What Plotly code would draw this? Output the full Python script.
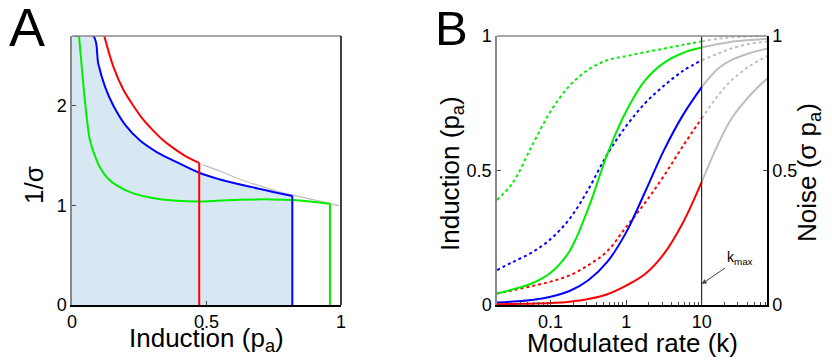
import math
import plotly.graph_objects as go

# ---- Panel A: 1/sigma against induction p_a ----
red_p = [0.12, 0.154, 0.191, 0.228, 0.265, 0.302, 0.34, 0.377, 0.425, 0.473]
red_inv = [2.7, 2.39, 2.16, 2.0, 1.86, 1.75, 1.65, 1.575, 1.49, 1.427]

blue_p = [0.011, 0.079, 0.098, 0.123, 0.154, 0.2, 0.253, 0.315, 0.377, 0.473,
          0.55, 0.625, 0.69, 0.748, 0.819]
blue_inv = [2.7, 2.7, 2.42, 2.19, 2.0, 1.8, 1.65, 1.535, 1.45, 1.327,
            1.26, 1.21, 1.17, 1.135, 1.093]

green_p = [0.026, 0.036, 0.045, 0.05, 0.067, 0.085, 0.104, 0.13, 0.166, 0.228,
           0.3, 0.377, 0.473, 0.55, 0.625, 0.748, 0.819, 0.9, 0.959]
green_inv = [2.7, 2.4, 2.13, 2.0, 1.65, 1.5, 1.38, 1.28, 1.2, 1.12,
             1.075, 1.05, 1.04, 1.048, 1.057, 1.06, 1.053, 1.035, 1.017]

bound_p = [0.486, 0.55, 0.625, 0.7, 0.748, 0.8, 0.85, 0.9, 0.95, 0.993]
bound_inv = [1.407, 1.345, 1.26, 1.195, 1.155, 1.115, 1.085, 1.055, 1.025, 0.997]

# ---- Panel B: induction / noise against modulated rate k ----
k = [0.0195, 0.0316, 0.0562, 0.1, 0.178, 0.316, 0.562, 1, 1.78, 3.16, 5.62, 10]
red_ind = [0.003, 0.004, 0.005, 0.007, 0.012, 0.022, 0.04, 0.072, 0.115, 0.19, 0.305, 0.458]
blue_ind = [0.009, 0.013, 0.019, 0.031, 0.052, 0.092, 0.16, 0.27, 0.42, 0.575, 0.705, 0.81]
green_ind = [0.043, 0.058, 0.08, 0.12, 0.2, 0.36, 0.56, 0.72, 0.835, 0.9, 0.937, 0.957]
red_noise = [0.043, 0.055, 0.07, 0.087, 0.11, 0.148, 0.2, 0.29, 0.38, 0.48, 0.59, 0.694]
blue_noise = [0.13, 0.16, 0.195, 0.245, 0.32, 0.43, 0.56, 0.665, 0.75, 0.815, 0.87, 0.91]
green_noise = [0.39, 0.455, 0.59, 0.72, 0.815, 0.875, 0.91, 0.925, 0.94, 0.953, 0.967, 0.98]

# beyond k_max (grey continuations)
k_hi = [10, 16.7, 25, 42, 70, 75]
red_ind_hi = [0.458, 0.601, 0.694, 0.774, 0.836, 0.842]
blue_ind_hi = [0.81, 0.88, 0.911, 0.935, 0.952, 0.954]
green_ind_hi = [0.957, 0.97, 0.979, 0.985, 0.989, 0.99]
red_noise_hi = [0.694, 0.781, 0.836, 0.886, 0.922, 0.925]
blue_noise_hi = [0.91, 0.935, 0.954, 0.97, 0.979, 0.98]
green_noise_hi = [0.98, 0.99, 0.995, 0.998, 1.0, 1.0]

k_max = 10

RED, BLUE, GREEN = "#ff0000", "#0000ff", "#00ee00"
GREY = "rgb(190,190,190)"
AXGREY = "#888888"
FONT = "Liberation Sans, Arial, sans-serif"
W, H = 832, 361


def px(x):
    return x / W


def py(y):
    return 1 - y / H


fig = go.Figure()

# panel A: shaded region under the blue curve
fig.add_trace(go.Scatter(x=[0] + blue_p, y=[blue_inv[0]] + blue_inv,
                         fill="tozeroy", fillcolor="rgb(216,232,243)", mode="none",
                         line_shape="spline", xaxis="x", yaxis="y"))
fig.add_trace(go.Scatter(x=bound_p, y=bound_inv, mode="lines", line_shape="spline",
                         line=dict(color=GREY, width=1.2), xaxis="x", yaxis="y"))
for ps, vs, col in [(green_p, green_inv, GREEN), (blue_p, blue_inv, BLUE), (red_p, red_inv, RED)]:
    fig.add_trace(go.Scatter(x=ps, y=vs, mode="lines", line_shape="spline",
                             line=dict(color=col, width=2), xaxis="x", yaxis="y"))
    # drop to the axis at the end of each curve
    fig.add_trace(go.Scatter(x=[ps[-1], ps[-1]], y=[vs[-1], 0], mode="lines",
                             line=dict(color=col, width=2), xaxis="x", yaxis="y"))

# panel B
for xs, ys, col, dash in [
    (k_hi, green_noise_hi, GREY, "dot"), (k_hi, green_ind_hi, GREY, "solid"),
    (k_hi, blue_noise_hi, GREY, "dot"), (k_hi, blue_ind_hi, GREY, "solid"),
    (k_hi, red_noise_hi, GREY, "dot"), (k_hi, red_ind_hi, GREY, "solid"),
    (k, green_noise, GREEN, "dot"), (k, blue_noise, BLUE, "dot"), (k, red_noise, RED, "dot"),
    (k, green_ind, GREEN, "solid"), (k, blue_ind, BLUE, "solid"), (k, red_ind, RED, "solid"),
]:
    fig.add_trace(go.Scatter(x=xs, y=ys, mode="lines", line_shape="spline",
                             line=dict(color=col, width=2, dash=dash), xaxis="x2", yaxis="y2"))
# k_max marker line, drawn against the right-hand (noise) axis so that axis is rendered
fig.add_trace(go.Scatter(x=[k_max, k_max], y=[0, 1], mode="lines",
                         line=dict(color="black", width=1), xaxis="x2", yaxis="y3"))

tick_font = dict(family=FONT, size=18, color="black")
title_font = dict(family=FONT, size=26, color="black")
ydom = [py(305), py(36)]
common = dict(showgrid=False, zeroline=False, ticks="inside", tickfont=tick_font,
              linewidth=1.5, showline=True, automargin=False)

fig.update_layout(
    width=W, height=H, template="none", showlegend=False,
    paper_bgcolor="white", plot_bgcolor="white",
    margin=dict(l=0, r=0, t=0, b=0),
    font=dict(family=FONT, color="black"),
    xaxis=dict(domain=[px(72), px(341)], range=[0, 1], tickvals=[0, 0.5, 1],
               ticklen=4, linecolor="black", anchor="y", **common),
    yaxis=dict(domain=ydom, range=[0, 2.7], tickvals=[0, 1, 2],
               ticklen=4, linecolor=AXGREY, anchor="x", **common),
    xaxis2=dict(domain=[px(497), px(767)], type="log", range=[-1.71, 1.865],
                tickvals=[0.1, 1, 10], ticktext=["0.1", "1", "10"], ticklen=5,
                minor=dict(ticks="inside", ticklen=3, dtick="D1", showgrid=False),
                linecolor="black", anchor="y2", **common),
    yaxis2=dict(domain=ydom, range=[0, 1], tickvals=[0, 0.5, 1],
                ticklen=4, linecolor=AXGREY, anchor="x2", **common),
    yaxis3=dict(domain=ydom, range=[0, 1], tickvals=[0, 0.5, 1], overlaying="y2",
                side="right", ticklen=4, linecolor="black", anchor="x2", **common),
)

# box edges not drawn by the axes
fig.add_shape(type="line", xref="x domain", yref="y domain", x0=0, x1=1, y0=1, y1=1,
              line=dict(color=AXGREY, width=1.5))
fig.add_shape(type="line", xref="x domain", yref="y domain", x0=1, x1=1, y0=0, y1=1,
              line=dict(color="black", width=1.5))
fig.add_shape(type="line", xref="x2 domain", yref="y2 domain", x0=0, x1=1, y0=1, y1=1,
              line=dict(color=AXGREY, width=1.5))

# axis titles
titles = [
    ("Induction (p<sub>a</sub>)", 206, 339, 0),
    ("Modulated rate (k)", 632, 343, 0),
    ("1/σ", 34, 185, -90),
    ("Induction (p<sub>a</sub>)", 451, 174, -90),
    ("Noise (σ p<sub>a</sub>)", 808, 173, -90),
]
for txt, tx, ty, ang in titles:
    fig.add_annotation(x=px(tx), y=py(ty), xref="paper", yref="paper", text=txt,
                       textangle=ang, showarrow=False, xanchor="center", yanchor="middle",
                       font=title_font)

# annotation x on a log axis is given as log10
fig.add_annotation(x=math.log10(k_max), y=0.078, xref="x2", yref="y2", text="k<sub>max</sub>",
                   showarrow=True, arrowhead=2, arrowsize=1, arrowwidth=1,
                   ax=38, ay=-26, font=dict(family=FONT, size=14, color="black"))
fig.add_annotation(x=px(27), y=py(27), xref="paper", yref="paper", text="A",
                   showarrow=False, xanchor="center", yanchor="middle",
                   font=dict(family=FONT, size=54, color="black"))
fig.add_annotation(x=px(452), y=py(28), xref="paper", yref="paper", text="B",
                   showarrow=False, xanchor="center", yanchor="middle",
                   font=dict(family=FONT, size=49, color="black"))

fig.write_html("out.html", config={"displayModeBar": False},
               post_script="document.body.style.margin='0';")
